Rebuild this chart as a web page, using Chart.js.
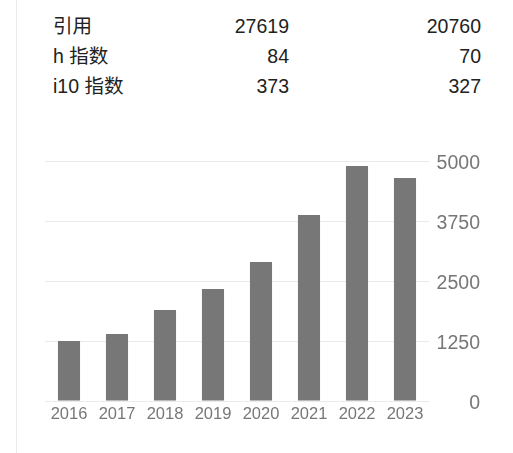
<!DOCTYPE html>
<html>
<head>
<meta charset="utf-8">
<script src="https://cdn.jsdelivr.net/npm/chart.js@4/dist/chart.umd.min.js"></script>
<style>
  html, body { margin: 0; padding: 0; background: #fff; }
  body { width: 513px; height: 453px; position: relative; overflow: hidden;
         font-family: "Liberation Sans", Arial, "Noto Sans CJK SC", sans-serif; color: #222; }
  #vline { position: absolute; left: 16px; top: 0; width: 1px; height: 453px; background: #ebebeb; }
  .cell { position: absolute; font-size: 19.5px; line-height: 30px; height: 30px; white-space: nowrap; }
  .lbl { left: 53px; }
  .c1 { left: 0; width: 289px; text-align: right; }
  .c2 { left: 0; width: 481px; text-align: right; }
  #wrap { position: absolute; left: 0; top: 140px; width: 513px; height: 313px; }
</style>
</head>
<body>
<div id="vline"></div>
<div id="table"></div>
<div id="wrap"><canvas id="c"></canvas></div>
<script>
const metricNames = ["引用", "h 指数", "i10 指数"];
const metricAll = ["27619", "84", "373"];
const metricSince = ["20760", "70", "327"];

const years = ["2016", "2017", "2018", "2019", "2020", "2021", "2022", "2023"];
const citations = [1250, 1395, 1895, 2335, 2895, 3875, 4895, 4645];
const yTicks = [0, 1250, 2500, 3750, 5000];

const table = document.getElementById('table');
metricNames.forEach((name, i) => {
  const top = 10.5 + i * 30;
  [[name, 'lbl'], [metricAll[i], 'c1'], [metricSince[i], 'c2']].forEach(([t, cls]) => {
    const d = document.createElement('div');
    d.className = 'cell ' + cls;
    d.style.top = top + 'px';
    d.textContent = t;
    table.appendChild(d);
  });
});

new Chart(document.getElementById('c'), {
  type: 'bar',
  data: {
    labels: years,
    datasets: [{
      data: citations,
      backgroundColor: '#777777',
      borderWidth: 0,
      barPercentage: 0.46,
      categoryPercentage: 1.0
    }]
  },
  options: {
    responsive: true,
    maintainAspectRatio: false,
    animation: false,
    layout: { padding: { left: 45, top: 21, right: 33, bottom: 22 } },
    plugins: { legend: { display: false }, tooltip: { enabled: false } },
    scales: {
      x: {
        grid: { display: false, drawTicks: false },
        border: { display: false },
        ticks: {
          color: '#777',
          padding: 4,
          maxRotation: 0,
          autoSkip: false,
          font: { family: '"Liberation Sans", Arial, sans-serif', size: 16.5 }
        },
        afterFit: (s) => { s.height = 30; }
      },
      y: {
        position: 'right',
        min: 0,
        max: 5000,
        afterBuildTicks: (s) => { s.ticks = yTicks.map(v => ({ value: v })); },
        grid: { color: '#ebebeb', lineWidth: 1, drawTicks: false },
        border: { display: false },
        ticks: {
          color: '#777',
          padding: 0,
          labelOffset: 3,
          crossAlign: 'far',
          font: { family: '"Liberation Sans", Arial, sans-serif', size: 19.5 },
          callback: (v) => String(v)
        },
        afterFit: (s) => { s.width = 51; }
      }
    }
  }
});
</script>
</body>
</html>
